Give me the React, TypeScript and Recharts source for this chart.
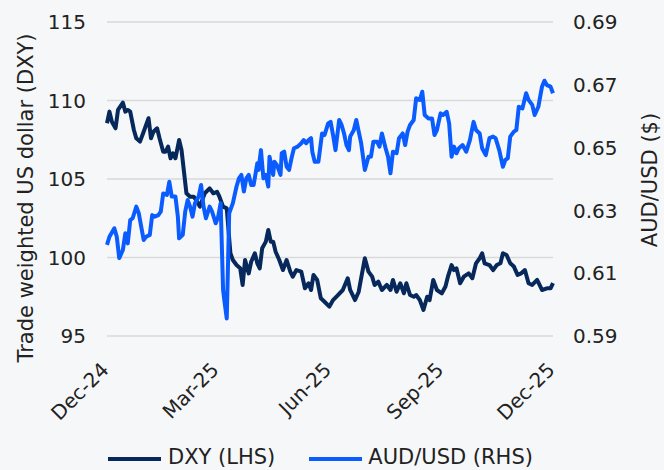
import React from 'react';
import { LineChart, Line, XAxis, YAxis, CartesianGrid } from 'recharts';

// Days since 1 Dec 2024
const dxyDay = [0, 2, 4, 7, 9, 13, 15, 17, 19, 22, 24, 27, 30, 34, 36, 38, 41, 43, 46, 48, 50, 52, 54, 56, 59, 61, 63, 65, 68, 71, 73, 76, 80, 84, 87, 90, 92, 95, 98, 101, 103, 106, 109, 111, 113, 116, 118, 121, 123, 125, 127, 130, 132, 134, 136, 138, 141, 144, 147, 150, 152, 155, 159, 162, 165, 167, 169, 172, 175, 178, 182, 185, 189, 193, 197, 199, 203, 206, 208, 211, 214, 217, 219, 222, 225, 229, 232, 234, 237, 240, 243, 245, 248, 251, 253, 256, 259, 262, 264, 267, 270, 274, 277, 279, 282, 284, 286, 289, 292, 296, 299, 302, 305, 307, 309, 313, 316, 319, 322, 324, 327, 330, 333, 336, 339, 342, 345, 348, 352, 356, 360, 363, 365];
const dxyValue = [108.55, 109.29, 108.65, 108.23, 109.4, 109.86, 109.29, 109.4, 109.29, 108.12, 107.59, 107.38, 108.01, 108.87, 107.59, 108.01, 108.23, 107.59, 106.74, 106.74, 107.06, 106.32, 106.64, 106.32, 107.48, 106.85, 105.46, 104.09, 103.87, 103.87, 103.66, 103.24, 104.09, 104.4, 104.09, 104.19, 103.87, 103.24, 103.13, 100.27, 99.84, 99.52, 99.31, 98.25, 99.84, 98.99, 99.73, 100.27, 99.63, 99.31, 100.59, 101.01, 101.75, 101.01, 101.01, 100.37, 99.84, 99.2, 99.84, 99.1, 98.78, 99.2, 99.1, 98.04, 98.36, 97.93, 98.89, 98.57, 97.4, 97.18, 96.87, 97.29, 97.61, 97.93, 98.68, 97.93, 97.29, 97.82, 98.68, 99.95, 99.1, 98.78, 98.25, 98.46, 97.93, 98.25, 97.93, 98.57, 97.82, 98.36, 97.72, 98.36, 97.61, 97.5, 97.61, 97.29, 96.66, 97.5, 97.29, 98.57, 97.93, 97.72, 98.15, 98.78, 99.52, 99.2, 99.31, 98.36, 98.78, 98.99, 98.68, 99.63, 99.95, 100.27, 99.63, 99.52, 99.2, 99.52, 99.63, 100.27, 100.16, 99.63, 99.42, 98.89, 98.99, 99.2, 98.36, 98.25, 98.57, 97.93, 98.04, 98.04, 98.36];

const audDay = [0, 2, 6, 8, 10, 13, 15, 17, 19, 21, 24, 26, 28, 30, 32, 35, 37, 39, 42, 44, 46, 49, 51, 53, 56, 58, 59, 62, 64, 66, 68, 70, 72, 75, 77, 79, 81, 84, 86, 89, 91, 93, 95, 96, 98, 100, 103, 106, 108, 110, 112, 114, 116, 118, 120, 123, 124, 126, 128, 130, 132, 133, 136, 137, 139, 142, 143, 145, 147, 149, 151, 153, 156, 159, 161, 163, 165, 167, 168, 170, 173, 176, 178, 181, 183, 185, 187, 190, 192, 194, 196, 198, 199, 202, 204, 206, 208, 211, 214, 216, 218, 221, 223, 225, 228, 230, 232, 234, 237, 239, 242, 244, 246, 248, 251, 253, 256, 258, 260, 263, 266, 268, 270, 273, 275, 278, 280, 282, 284, 286, 288, 291, 294, 297, 300, 302, 305, 307, 310, 313, 316, 318, 321, 324, 326, 328, 330, 333, 335, 337, 340, 343, 345, 348, 350, 353, 356, 358, 360, 363, 365];
const audValue = [0.619, 0.6216, 0.6243, 0.6216, 0.6148, 0.6174, 0.6227, 0.6195, 0.6269, 0.6275, 0.6312, 0.6291, 0.6248, 0.6206, 0.6216, 0.6222, 0.6285, 0.628, 0.6285, 0.6296, 0.6354, 0.6349, 0.6391, 0.6344, 0.6344, 0.628, 0.6211, 0.6222, 0.6296, 0.6333, 0.6312, 0.628, 0.6323, 0.6344, 0.6381, 0.6312, 0.6275, 0.6312, 0.6296, 0.6259, 0.628, 0.6323, 0.6047, 0.6015, 0.5956, 0.6291, 0.6323, 0.6376, 0.6402, 0.6413, 0.636, 0.6402, 0.6413, 0.6381, 0.6381, 0.645, 0.6429, 0.6492, 0.6402, 0.6413, 0.6376, 0.6471, 0.6413, 0.6455, 0.6445, 0.6413, 0.6482, 0.6487, 0.6439, 0.6429, 0.6466, 0.6498, 0.6503, 0.6514, 0.6524, 0.6514, 0.6524, 0.653, 0.6487, 0.6455, 0.6455, 0.6545, 0.654, 0.6577, 0.6582, 0.654, 0.6492, 0.6588, 0.6572, 0.6545, 0.6508, 0.6492, 0.6535, 0.6556, 0.6588, 0.6551, 0.6514, 0.6429, 0.6471, 0.6471, 0.6519, 0.6519, 0.6503, 0.6545, 0.6498, 0.6471, 0.6418, 0.6487, 0.6482, 0.653, 0.6545, 0.6508, 0.6551, 0.6572, 0.6588, 0.6657, 0.6652, 0.6678, 0.6604, 0.6593, 0.6593, 0.654, 0.6556, 0.6609, 0.6604, 0.6614, 0.6577, 0.6471, 0.6503, 0.6482, 0.6498, 0.6508, 0.6487, 0.6524, 0.6582, 0.6556, 0.6545, 0.6498, 0.6476, 0.653, 0.6535, 0.653, 0.6492, 0.6439, 0.6461, 0.6466, 0.6535, 0.6551, 0.6556, 0.663, 0.6625, 0.6673, 0.6652, 0.6636, 0.6604, 0.663, 0.6694, 0.6713, 0.6699, 0.6694, 0.6673];

const tickDays = [0, 90, 182, 274, 365];
const tickLabels = ['Dec-24', 'Mar-25', 'Jun-25', 'Sep-25', 'Dec-25'];
const leftTicks = [95, 100, 105, 110, 115];
const rightTicks = [0.59, 0.61, 0.63, 0.65, 0.67, 0.69];

const dxyData = dxyDay.map((d, i) => ({ day: d, dxy: dxyValue[i] }));
const audData = audDay.map((d, i) => ({ day: d, aud: audValue[i] }));

const FONT = '"DejaVu Sans", sans-serif';
const TEXT = '#222222';
const DXY_COLOR = '#06285a';
const AUD_COLOR = '#0a5cff';
const BG = '#f6f7f9';

const XTick = (props: any) => {
  const { x, y, payload } = props;
  const i = tickDays.indexOf(payload.value);
  const ax = x + 3;
  const ay = y + 35;
  return (
    <text x={ax} y={ay} transform={`rotate(-45 ${ax} ${ay})`} textAnchor="end" fontSize={20} fontFamily={FONT} fill={TEXT}>
      {tickLabels[i]}
    </text>
  );
};

export default function App() {
  return (
    <div style={{ position: 'absolute', left: 0, top: 0, width: 664, height: 470, background: BG, fontFamily: FONT, overflow: 'hidden' }}>
      <LineChart width={664} height={470} margin={{ top: 22, right: 0, left: 0, bottom: 0 }}>
        <CartesianGrid yAxisId="left" vertical={false} stroke="#d9d9d9" strokeWidth={1.5} />
        <XAxis
          dataKey="day"
          type="number"
          domain={[0, 365]}
          ticks={tickDays}
          axisLine={false}
          tickLine={false}
          tickSize={0}
          tickMargin={0}
          height={134}
          tick={<XTick />}
          allowDuplicatedCategory={false}
        />
        <YAxis
          yAxisId="left"
          orientation="left"
          width={107}
          domain={[95, 115]}
          ticks={leftTicks}
          axisLine={false}
          tickLine={false}
          tickSize={0}
          tickMargin={21}
          tick={{ fontSize: 20, fontFamily: FONT, fill: TEXT }}
          label={{ value: 'Trade weighted US dollar (DXY)', angle: -90, position: 'center', dx: -28, dy: 19, style: { fontSize: 21, fontFamily: FONT, fill: TEXT } }}
        />
        <YAxis
          yAxisId="right"
          orientation="right"
          width={111}
          domain={[0.59, 0.69]}
          ticks={rightTicks}
          axisLine={false}
          tickLine={false}
          tickSize={0}
          tickMargin={20}
          tickFormatter={(v: number) => v.toFixed(2)}
          tick={{ fontSize: 20, fontFamily: FONT, fill: TEXT }}
          label={{ value: 'AUD/USD ($)', angle: -90, position: 'center', dx: 41, dy: 1, style: { fontSize: 21, fontFamily: FONT, fill: TEXT } }}
        />
        <Line yAxisId="left" data={dxyData} dataKey="dxy" type="linear" stroke={DXY_COLOR} strokeWidth={4} dot={false} strokeLinejoin="round" isAnimationActive={false} />
        <Line yAxisId="right" data={audData} dataKey="aud" type="linear" stroke={AUD_COLOR} strokeWidth={4} dot={false} strokeLinejoin="round" isAnimationActive={false} />
      </LineChart>
      <div style={{ position: 'absolute', left: 108, top: 446, height: 22, display: 'flex', alignItems: 'center', fontSize: 21, color: TEXT, whiteSpace: 'nowrap', lineHeight: '22px' }}>
        <span style={{ display: 'inline-block', width: 53, height: 4, background: DXY_COLOR, marginRight: 7, marginTop: 3 }} />
        <span>DXY (LHS)</span>
        <span style={{ display: 'inline-block', width: 53, height: 4, background: AUD_COLOR, marginLeft: 34, marginRight: 6, marginTop: 3 }} />
        <span>AUD/USD (RHS)</span>
      </div>
    </div>
  );
}
